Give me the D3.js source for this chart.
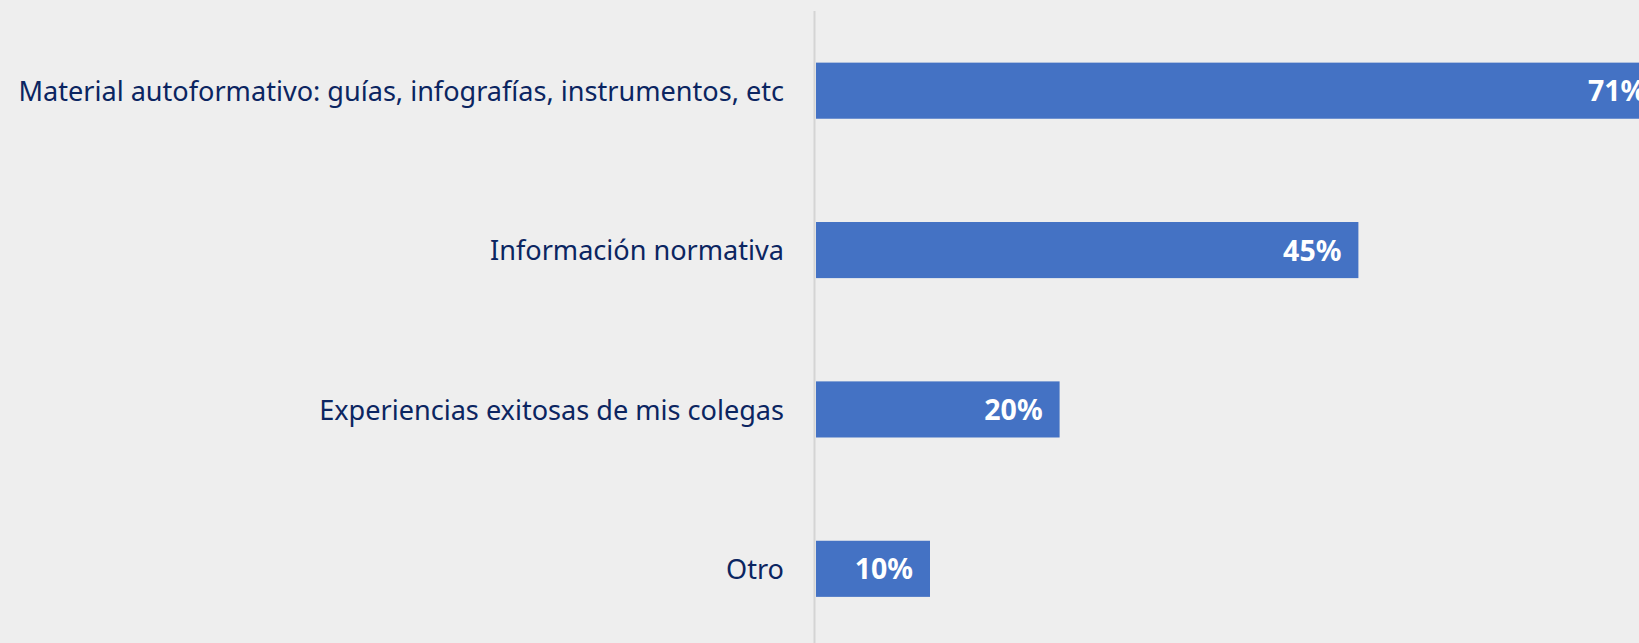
<!DOCTYPE html>
<html>
<head>
<meta charset="utf-8">
<script src="https://cdn.jsdelivr.net/npm/d3@7"></script>
<style>
  html, body { margin: 0; padding: 0; background: #eeeeee; overflow: hidden; }
  svg { display: block; }
</style>
</head>
<body>
<svg id="chart" width="1639" height="643"></svg>
<script>
const categories = [
  "Material autoformativo: guías, infografías, instrumentos, etc",
  "Información normativa",
  "Experiencias exitosas de mis colegas",
  "Otro"
];
const values = [70.6, 45.2, 20.3, 9.5];

const W = 1639, H = 643;
const x0 = 816, pxPerPct = 12.0;
const svg = d3.select("#chart");
svg.append("rect").attr("width", W).attr("height", H).attr("fill", "#eeeeee");

const x = d3.scaleLinear().domain([0, 100]).range([x0, x0 + 100 * pxPerPct]);
const y = d3.scaleBand().domain(categories).range([11, 648.5]).paddingInner(0.648).paddingOuter(0.324);

const data = categories.map((c, i) => ({ c, v: values[i] }));

// bars
svg.selectAll("rect.bar").data(data).enter().append("rect")
  .attr("class", "bar")
  .attr("x", x(0))
  .attr("y", d => y(d.c))
  .attr("width", d => x(d.v) - x(0))
  .attr("height", y.bandwidth())
  .attr("fill", "#4472c4");

// axis line
svg.append("line")
  .attr("x1", x0 - 1.5).attr("x2", x0 - 1.5)
  .attr("y1", 11).attr("y2", H)
  .attr("stroke", "#d4d4d4").attr("stroke-width", 2);

// category labels
const fontFam = "'Noto Sans', 'Open Sans', sans-serif";
const cat = svg.selectAll("text.cat").data(data).enter().append("text")
  .attr("class", "cat")
  .attr("x", 784)
  .attr("y", d => y(d.c) + y.bandwidth() / 2)
  .attr("dy", "0.38em")
  .attr("text-anchor", "end")
  .attr("font-family", fontFam)
  .attr("font-size", 28)
  .attr("fill", "#0b2561")
  .text(d => d.c);
// fit font size so longest label spans target width (18 -> 784)
const longest = cat.filter((d, i) => i === 0).node();
const w = longest.getComputedTextLength();
const fs = 28 * 766 / w;
cat.attr("font-size", fs);

// value labels
svg.selectAll("text.val").data(data).enter().append("text")
  .attr("class", "val")
  .attr("x", d => x(d.v) - 17)
  .attr("y", d => y(d.c) + y.bandwidth() / 2)
  .attr("dy", "0.37em")
  .attr("text-anchor", "end")
  .attr("font-family", fontFam)
  .attr("font-weight", "bold")
  .attr("font-size", 28.5)
  .attr("fill", "#ffffff")
  .text(d => Math.round(d.v) + "%");
</script>
</body>
</html>
